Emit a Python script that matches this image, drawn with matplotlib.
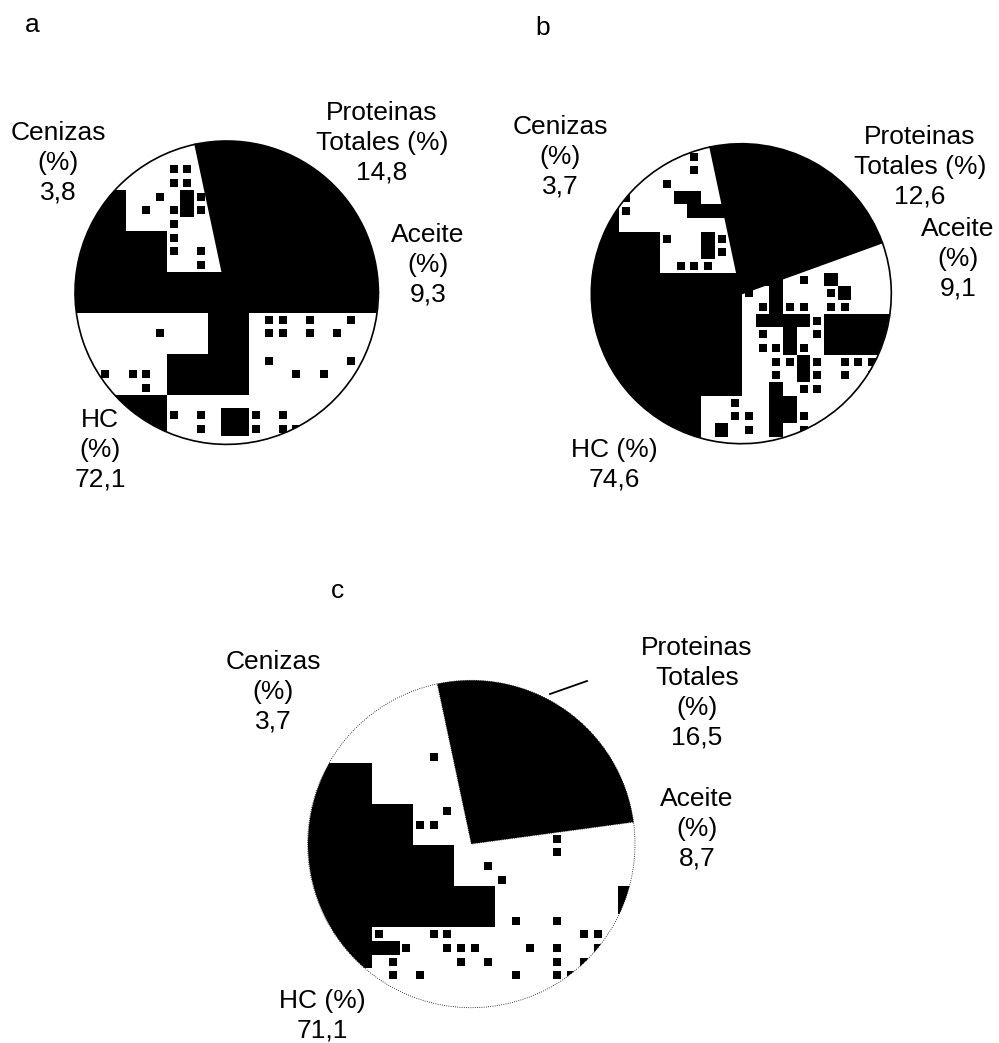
import numpy as np
import matplotlib
matplotlib.use("Agg")
import matplotlib.pyplot as plt
from matplotlib.colors import ListedColormap
from matplotlib.patches import Circle

plt.rcParams["font.family"] = ["Liberation Sans", "DejaVu Sans"]

# printed values, in the order the labels read
printed_a = [14.8, 9.3, 72.1, 3.8]
printed_b = [12.6, 9.1, 74.6, 3.7]
printed_c = [16.5, 8.7, 71.1, 3.7]

# black slice as it is drawn in the scan (% of the circle), not as it is printed
drawn_a = [28.3, 71.7]
drawn_b = [22.8, 77.2]
drawn_c = [26.2, 73.8]

# the scan broke the other slices into blocks, read row by row: # block, x speck
blocks_a = [
    "", "", ".......xx", ".......xx", "####..x.#x", "####.x.x#x", "####...x",
    "#######x", "#######x.x", "#######..x",
    "#" * 23, "#" * 23, "#" * 23,
    "..........###.xx.x..x", "......x...###.xx.x.x", "..........###",
    ".......######.x.....x", "..x.xx.######...x.x", ".....x.######",
    "...####", "...####x.x.##x.x", "....###..x.##x.xx", "",
]
blocks_b = [
    "", "........x", "........x", "......x", "...x...##", "###x....###", "###",
    "######x..#x", "######...#x", "######.xxx",
    "###############.x.#", "############x.#...x#", "############.x#xx.xx",
    "############.####x#####", "############.x.#.x#####", "############.xx#x.#####",
    "############..xx#x.xxx", "############..x.#x.x.x", "############..#.xx",
    "#########..x..##", "#########..xx.##x", "#########.#.x.#.x", "........xx",
]
blocks_c = [
    "", "", "", "", "", "", ".........x", "#####", "#####", "#####",
    "########..x", "########xx", "########..........x",
    "###########.......x", "###########..x", "###########...x",
    "##############.........#", "##############.........#", "##############.x..x....x",
    "#####x...xx.........xx", "#######x..xxx...x.x..x", "#####.x....x.x....x.x",
    "......x.x......x..xx", "..................x", "",
]


def fmt(v):
    return f"{v}".replace(".", ",")


H = 1043
CELL = 41 / 3
fig = plt.figure(figsize=(9.99, 10.43), dpi=100)
ax = fig.add_axes([0, 0, 1, 1])
black = ListedColormap(["black"])


def draw_pie(drawn, blocks, cx, cy, r, x0, y0, lw, ls="-"):
    ax.pie(drawn, colors=["black", "white"], startangle=102, counterclock=False,
           center=(cx, H - cy), radius=r,
           wedgeprops=dict(edgecolor="black", linewidth=lw, linestyle=ls))
    ncol = max(len(s) for s in blocks)
    rows = [s.ljust(ncol, ".") for s in blocks]
    full = np.array([[c == "#" for c in s] for s in rows], dtype=float)
    xe = x0 + CELL * np.arange(ncol + 1)
    ye = H - (y0 + CELL * np.arange(len(rows) + 1))
    mesh = ax.pcolormesh(xe, ye, np.ma.masked_equal(full, 0), cmap=black, linewidth=0)
    circle = Circle((cx, H - cy), r, transform=ax.transData)
    mesh.set_clip_path(circle)
    # small flecks sit at the middle of their cell
    jj, ii = np.nonzero(np.array([[c == "x" for c in s] for s in rows]))
    dots = ax.scatter(xe[ii] + CELL / 2, ye[jj] - CELL / 2, marker="s", s=26,
                      color="black", linewidths=0)
    dots.set_clip_path(circle)


draw_pie(drawn_a, blocks_a, 226.7, 292.7, 151.7, 71.0, 135.0, 1.2)
draw_pie(drawn_b, blocks_b, 741.3, 293.7, 150.0, 578.0, 136.0, 1.2)
draw_pie(drawn_c, blocks_c, 471.3, 844.0, 163.7, 304.0, 667.7, 0.6, ":")

# leader line left over above panel c
ax.plot([550, 587], [H - 694, H - 681], color="black", lw=1.3)

ax.set_xlim(0, 999)
ax.set_ylim(0, H)
ax.set_aspect("equal")
ax.axis("off")


def label(x, y, s):
    ax.text(x, H - y, s, ha="center", va="center", fontsize=19,
            linespacing=1.3, color="black")


for x, y, s in [(32, 25, "a"), (543, 28, "b"), (338, 591, "c")]:
    label(x, y, s)

p, o, h, z = printed_a
label(382, 143, f"Proteinas\nTotales (%)\n{fmt(p)}")
label(428, 265, f"Aceite\n(%)\n{fmt(o)}")
label(100, 450, f"HC\n(%)\n{fmt(h)}")
label(58, 163, f"Cenizas\n(%)\n{fmt(z)}")

p, o, h, z = printed_b
label(920, 167, f"Proteinas\nTotales (%)\n{fmt(p)}")
label(958, 259, f"Aceite\n(%)\n{fmt(o)}")
label(614, 465, f"HC (%)\n{fmt(h)}")
label(560, 157, f"Cenizas\n(%)\n{fmt(z)}")

p, o, h, z = printed_c
label(697, 693, f"Proteinas\nTotales\n(%)\n{fmt(p)}")
label(697, 829, f"Aceite\n(%)\n{fmt(o)}")
label(322, 1016, f"HC (%)\n{fmt(h)}")
label(273, 692, f"Cenizas\n(%)\n{fmt(z)}")

fig.savefig("out.png", dpi=100, facecolor="white")
